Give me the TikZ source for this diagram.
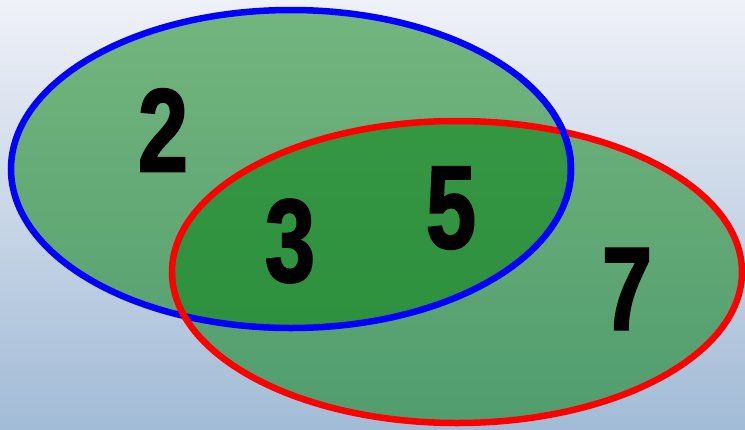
\documentclass[tikz,border=0pt]{standalone}
\usepackage{fontspec}
\usepackage{xcolor}
\usepackage{tikz}
\newfontfamily\vennfont[FakeStretch=0.76,FakeBold=1.8]{Liberation Sans Bold}
\definecolor{venntop}{RGB}{239,241,248}
\definecolor{vennbottom}{RGB}{162,187,214}
\definecolor{venngreen}{RGB}{8,130,18}
\definecolor{vennblue}{RGB}{0,0,255}
\definecolor{vennred}{RGB}{255,0,0}
\tikzset{%
  vennset/.style={%
    fill=venngreen,
    fill opacity=0.53
  },
  vennline/.style={%
    line width=6.5pt
  },
  venndigit/.style={%
    text=black,
    inner sep=0pt,
    font=\fontsize{118}{118}\selectfont\vennfont
  }
}

\begin{document}
\begin{tikzpicture}[x=1pt,y=-1pt]
    \useasboundingbox (0,0) rectangle (745,429);
    \shade[top color=venntop,bottom color=vennbottom] (0,0) rectangle (745,429);

    \coordinate (A) at (291,169);
    \coordinate (B) at (457,272);

    \fill[vennset] (A) ellipse [x radius=280, y radius=159];
    \fill[vennset] (B) ellipse [x radius=285, y radius=151];

    \draw[vennline,draw=vennblue] (A) ellipse [x radius=280, y radius=159];
    \draw[vennline,draw=vennred] (B) ellipse [x radius=285, y radius=151];
    % blue passes over red at the upper right crossing
    \begin{scope}
      \clip (520,60) rectangle (620,200);
      \draw[vennline,draw=vennblue] (A) ellipse [x radius=280, y radius=159];
    \end{scope}

    \node[venndigit] (two) at (163,130) {2};
    \node[venndigit] (three) at (290,241) {3};
    \node[venndigit] (five) at (451,208) {5};
    \node[venndigit] (seven) at (627,289) {7};
  \end{tikzpicture}
\end{document}
